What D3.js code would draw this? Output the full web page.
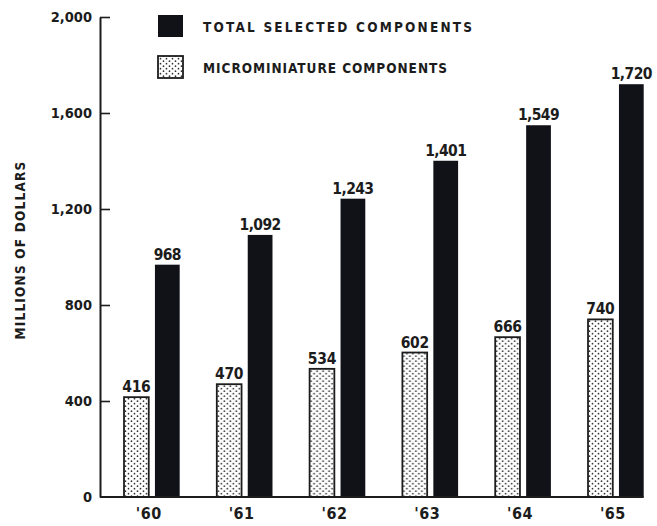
<!DOCTYPE html>
<html>
<head>
<meta charset="utf-8">
<script src="https://cdn.jsdelivr.net/npm/d3@7"></script>
<style>
  html, body { margin: 0; padding: 0; background: #fff; }
  svg { display: block; }
  text { font-family: "DejaVu Sans Condensed", "DejaVu Sans", sans-serif; font-weight: bold; fill: #1c1c1c; }
</style>
</head>
<body>
<script>
// Component sales, millions of dollars
const years = ["'60", "'61", "'62", "'63", "'64", "'65"];
const totalSelected = [968, 1092, 1243, 1401, 1549, 1720];
const microminiature = [416, 470, 534, 602, 666, 740];
const yTicks = [0, 400, 800, 1200, 1600, 2000];
const seriesNames = ["TOTAL SELECTED COMPONENTS", "MICROMINIATURE COMPONENTS"];

const W = 657, H = 526;
const svg = d3.select("body").append("svg").attr("width", W).attr("height", H);

// stipple fill for the microminiature bars
const defs = svg.append("defs");
const pat = defs.append("pattern").attr("id", "stipple")
  .attr("patternUnits", "userSpaceOnUse").attr("width", 6).attr("height", 5);
pat.append("rect").attr("width", 6).attr("height", 5).attr("fill", "#fff");
pat.append("circle").attr("cx", 1.5).attr("cy", 1.2).attr("r", 0.85).attr("fill", "#333");
pat.append("circle").attr("cx", 4.5).attr("cy", 3.7).attr("r", 0.85).attr("fill", "#333");

const y = d3.scaleLinear().domain([0, 2000]).range([497, 17]);
const x = d3.scaleBand().domain(years).range([124, 643.7]).paddingInner(0.4).paddingOuter(0).align(0);
const xs = d3.scaleBand().domain(["micro", "total"]).range([0, x.bandwidth()]).paddingInner(0.2);

const rows = years.map((yr, i) => ({ yr, micro: microminiature[i], total: totalSelected[i] }));

// y axis
const yAxis = d3.axisLeft(y).tickValues(yTicks).tickSize(0).tickPadding(8)
  .tickFormat(d3.format(","));
const ga = svg.append("g").attr("transform", "translate(100,0)").call(yAxis);
ga.select(".domain").attr("stroke", "#1c1c1c").attr("stroke-width", 2);
ga.selectAll(".tick text").style("font-size", "14.5px").attr("fill", "#1c1c1c");
ga.selectAll(".tick").filter(d => d > 0).append("line")
  .attr("x1", 0).attr("x2", 10).attr("stroke", "#1c1c1c").attr("stroke-width", 1.6);

svg.append("text")
  .attr("transform", `translate(25,250) rotate(-90)`)
  .attr("text-anchor", "middle")
  .style("font-size", "13.5px").style("letter-spacing", "1.2px")
  .text("MILLIONS OF DOLLARS");

// bars
const g = svg.append("g");
const grp = g.selectAll("g.grp").data(rows).join("g").attr("class", "grp")
  .attr("transform", d => `translate(${x(d.yr)},0)`);

grp.append("rect")
  .attr("x", xs("micro")).attr("width", xs.bandwidth())
  .attr("y", d => y(d.micro)).attr("height", d => y(0) - y(d.micro))
  .attr("fill", "url(#stipple)").attr("stroke", "#1c1c1c").attr("stroke-width", 1.8);

grp.append("rect")
  .attr("x", xs("total")).attr("width", xs.bandwidth())
  .attr("y", d => y(d.total)).attr("height", d => y(0) - y(d.total))
  .attr("fill", "#111118");

grp.append("text")
  .attr("x", xs("micro") + xs.bandwidth() / 2).attr("y", d => y(d.micro) - 5)
  .attr("text-anchor", "middle").style("font-size", "15.5px").style("letter-spacing", "-0.3px")
  .text(d => d.micro);

grp.append("text")
  .attr("x", xs("total") + xs.bandwidth() / 2).attr("y", d => y(d.total) - 5)
  .attr("text-anchor", "middle").style("font-size", "15.5px").style("letter-spacing", "-0.6px")
  .text(d => d3.format(",")(d.total));

// baseline
svg.append("line").attr("x1", 100).attr("x2", x(years[years.length - 1]) + x.bandwidth())
  .attr("y1", y(0)).attr("y2", y(0)).attr("stroke", "#1c1c1c").attr("stroke-width", 2);

// category labels
svg.append("g").selectAll("text").data(years).join("text")
  .attr("x", d => x(d) + x.bandwidth() / 2 - 3).attr("y", 519)
  .attr("text-anchor", "middle").style("font-size", "16px").style("letter-spacing", "0.5px")
  .text(d => d);

// legend
const legend = svg.append("g");
const lg = [
  { name: seriesNames[0], fill: "#111118", stroke: "none", y: 15, len: 269 },
  { name: seriesNames[1], fill: "url(#stipple)", stroke: "#1c1c1c", y: 56, len: 244 }
];
legend.selectAll("rect").data(lg).join("rect")
  .attr("x", 158).attr("y", d => d.y).attr("width", 25).attr("height", 22)
  .attr("fill", d => d.fill).attr("stroke", d => d.stroke).attr("stroke-width", 1.8);
legend.selectAll("text").data(lg).join("text")
  .attr("x", 203).attr("y", d => d.y + 17)
  .attr("textLength", d => d.len).attr("lengthAdjust", "spacing")
  .style("font-size", "13.5px")
  .text(d => d.name);
</script>
</body>
</html>
